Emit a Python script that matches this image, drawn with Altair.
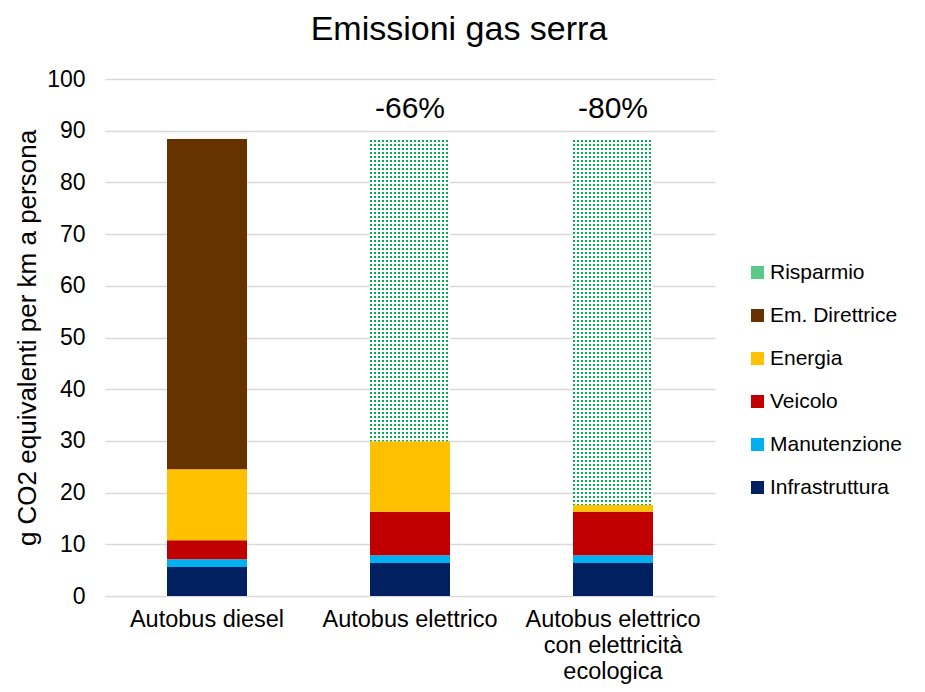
import altair as alt
import pandas as pd

# ---- data ----
veicoli = ["Autobus diesel", "Autobus elettrico", "Autobus elettrico con elettricità ecologica"]
categorie_stack = ["Infrastruttura", "Manutenzione", "Veicolo", "Energia", "Em. Direttrice", "Risparmio"]
infrastruttura = [5.6, 6.4, 6.4]
manutenzione = [1.5, 1.5, 1.5]
veicolo = [3.7, 8.4, 8.4]
energia = [13.7, 13.6, 1.3]
em_direttrice = [63.9, 0.0, 0.0]
risparmio = [0.0, 58.5, 70.8]
etichette_pct = ["", "-66%", "-80%"]

legenda_ordine = ["Risparmio", "Em. Direttrice", "Energia", "Veicolo", "Manutenzione", "Infrastruttura"]
legenda_colori = ["#5cc98a", "#663300", "#ffc000", "#c00000", "#00b0f0", "#002060"]

valori = {
    "Infrastruttura": infrastruttura,
    "Manutenzione": manutenzione,
    "Veicolo": veicolo,
    "Energia": energia,
    "Em. Direttrice": em_direttrice,
    "Risparmio": risparmio,
}

rows = []
totali = []
for i, v in enumerate(veicoli):
    base = 0.0
    for c in categorie_stack:
        val = valori[c][i]
        if val > 0:
            rows.append({"veicolo": v, "categoria": c, "y0": base, "y1": base + val})
            base += val
    totali.append(base)
df = pd.DataFrame(rows)
df_solid = df[df["categoria"] != "Risparmio"]
df_risp = df[df["categoria"] == "Risparmio"].copy()
df_risp["base"] = 0.0
df_pct = pd.DataFrame({"veicolo": veicoli, "totale": totali, "label": etichette_pct})
df_pct = df_pct[df_pct["label"] != ""]

FONT = "Liberation Sans"
W, H = 610, 517

# band layout chosen so bars sit on whole pixels (step 203 px, bar 80 px)
STEP, BAR = 203, 80
n_cat = len(veicoli)
p_inner = 1 - BAR / STEP
p_outer = (W / STEP - n_cat + p_inner) / 2

label_expr = (
    "datum.label == 'Autobus elettrico con elettricità ecologica' ? "
    "['Autobus elettrico', 'con elettricità', 'ecologica'] : datum.label"
)

x_scale = alt.Scale(paddingInner=p_inner, paddingOuter=p_outer)
x_enc = alt.X(
    "veicolo:N",
    sort=veicoli,
    scale=x_scale,
    axis=alt.Axis(
        title=None, labelAngle=0, domain=False, ticks=False, labelFontSize=23.5,
        labelColor="#000000", labelPadding=11, labelLineHeight=26, labelExpr=label_expr,
        labelFont=FONT,
    ),
)
y_scale = alt.Scale(domain=[0, 100], nice=False)
y_enc = alt.Y(
    "y0:Q",
    scale=y_scale,
    axis=alt.Axis(
        title="g CO2 equivalenti per km a persona", values=list(range(0, 101, 10)),
        domain=False, ticks=False, grid=True, gridColor="#d9d9d9", gridWidth=1.5,
        labelFontSize=23, labelColor="#000000", labelPadding=20, labelFont=FONT,
        titleFontSize=26, titleFontWeight="normal", titleColor="#000000", titleFont=FONT,
        titlePadding=6,
    ),
)

# dotted pattern: vertical green stripes + white horizontal dashes on top
n = BAR // 4
stops = []
for i in range(n):
    a, b, c = i / n, (i + 0.5) / n, (i + 1) / n
    stops += [
        alt.GradientStop(color="#00b050", offset=a),
        alt.GradientStop(color="#00b050", offset=b),
        alt.GradientStop(color="#ffffff", offset=b),
        alt.GradientStop(color="#ffffff", offset=c),
    ]
grad = alt.LinearGradient(gradient="linear", stops=stops, x1=0, x2=1, y1=0, y2=0)

risp = alt.Chart(df_risp).mark_bar(fill=grad).encode(
    x=x_enc,
    y=y_enc,
    y2="y1:Q",
)
dots = alt.Chart(df_risp).mark_rule(color="#ffffff", strokeWidth=BAR, strokeDash=[2, 2]).encode(
    x=alt.X("veicolo:N", sort=veicoli),
    y=alt.Y("base:Q", scale=y_scale),
    y2="y1:Q",
)

solid = alt.Chart(df_solid).mark_bar().encode(
    x=alt.X("veicolo:N", sort=veicoli),
    y=alt.Y("y0:Q", scale=y_scale),
    y2="y1:Q",
    color=alt.Color(
        "categoria:N",
        scale=alt.Scale(domain=legenda_ordine, range=legenda_colori),
        legend=alt.Legend(
            title=None, orient="none", legendX=642, legendY=183, symbolType="square",
            symbolSize=169, symbolStrokeWidth=0, labelFontSize=21, labelFont=FONT,
            labelColor="#000000", rowPadding=21, labelOffset=2, labelLimit=0,
        ),
    ),
)

pct = alt.Chart(df_pct).mark_text(fontSize=30, font=FONT, color="#000000", dy=-30, baseline="middle").encode(
    x=alt.X("veicolo:N", sort=veicoli),
    y=alt.Y("totale:Q", scale=y_scale),
    text="label:N",
)

chart = alt.layer(risp, dots, solid, pct).properties(
    width=W,
    height=H,
    autosize=alt.AutoSizeParams(type="none"),
    padding={"left": 97, "top": 71, "right": 201, "bottom": 88},
    title=alt.TitleParams(
        "Emissioni gas serra", fontSize=34, font=FONT, fontWeight="normal", color="#000000",
        anchor="middle", dx=49, offset=21,
    ),
).configure_view(stroke=None)

chart.save("out.html", embed_options={"renderer": "svg", "actions": False})
